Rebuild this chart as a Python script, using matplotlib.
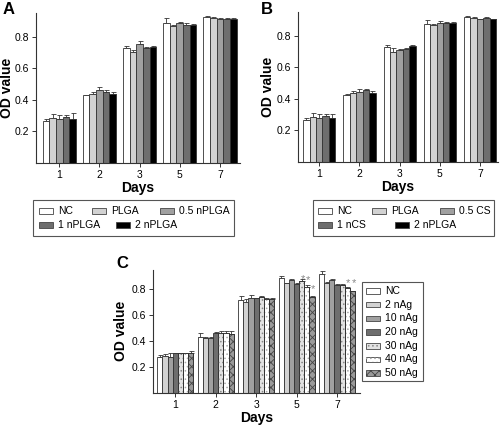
import matplotlib
matplotlib.use("Agg")
import matplotlib.pyplot as plt
import numpy as np
from matplotlib.patches import Rectangle

plt.rcParams['font.family'] = ['Liberation Sans', 'DejaVu Sans']
plt.rcParams['hatch.linewidth'] = 0.6

days = ["1", "2", "3", "5", "7"]

# Panel A
a_labels = ["NC", "PLGA", "0.5 nPLGA", "1 nPLGA", "2 nPLGA"]
a_vals = [
    [0.265, 0.43, 0.73, 0.885, 0.925],
    [0.285, 0.44, 0.705, 0.870, 0.920],
    [0.278, 0.465, 0.755, 0.885, 0.915],
    [0.290, 0.450, 0.730, 0.878, 0.915],
    [0.280, 0.440, 0.735, 0.875, 0.915],
]
a_err = [
    [0.012, 0.003, 0.015, 0.035, 0.005],
    [0.025, 0.008, 0.012, 0.005, 0.003],
    [0.025, 0.020, 0.018, 0.008, 0.002],
    [0.015, 0.010, 0.005, 0.010, 0.002],
    [0.035, 0.010, 0.007, 0.007, 0.002],
]

# Panel B
b_labels = ["NC", "PLGA", "0.5 CS", "1 nCS", "2 nPLGA"]
b_vals = [
    [0.267, 0.424, 0.729, 0.874, 0.921],
    [0.284, 0.439, 0.700, 0.870, 0.915],
    [0.280, 0.445, 0.708, 0.884, 0.905],
    [0.290, 0.453, 0.718, 0.878, 0.913],
    [0.277, 0.439, 0.735, 0.878, 0.905],
]
b_err = [
    [0.012, 0.005, 0.015, 0.025, 0.005],
    [0.028, 0.008, 0.020, 0.003, 0.003],
    [0.025, 0.020, 0.010, 0.010, 0.003],
    [0.015, 0.010, 0.005, 0.012, 0.003],
    [0.030, 0.010, 0.008, 0.008, 0.003],
]

# Panel C
c_labels = ["NC", "2 nAg", "10 nAg", "20 nAg", "30 nAg", "40 nAg", "50 nAg"]
c_vals = [
    [0.280, 0.435, 0.720, 0.885, 0.920],
    [0.285, 0.425, 0.705, 0.845, 0.845],
    [0.280, 0.425, 0.730, 0.870, 0.870],
    [0.305, 0.465, 0.730, 0.840, 0.835],
    [0.305, 0.465, 0.740, 0.860, 0.835],
    [0.305, 0.460, 0.725, 0.815, 0.810],
    [0.310, 0.455, 0.725, 0.740, 0.785],
]
c_err = [
    [0.010, 0.025, 0.030, 0.015, 0.020],
    [0.015, 0.010, 0.020, 0.005, 0.010],
    [0.025, 0.010, 0.025, 0.005, 0.005],
    [0.005, 0.005, 0.005, 0.010, 0.005],
    [0.005, 0.010, 0.005, 0.015, 0.005],
    [0.005, 0.015, 0.005, 0.015, 0.005],
    [0.010, 0.020, 0.005, 0.010, 0.005],
]
# asterisks: (series index, day index, y)
c_stars = [(4, 3, 0.880), (5, 3, 0.870), (6, 3, 0.800), (5, 4, 0.850), (6, 4, 0.845)]

ab_colors = ["white", "#d2d2d2", "#a0a0a0", "#6e6e6e", "black"]
c_face = ["white", "#d2d2d2", "#a0a0a0", "#6e6e6e", "#e2e2e2", "white", "#9a9a9a"]
c_hatch = [None, None, None, None, "....", "....", "xxxx"]
c_hcol = [None, None, None, None, "#888888", "#aaaaaa", "#444444"]

W, H = 500, 425
fig = plt.figure(figsize=(5, 4.25), dpi=100)


def style_axes(ax, xlim, ylab_x):
    ax.set_ylim(0, 0.95)
    ax.set_xlim(*xlim)
    ax.set_yticks([0.2, 0.4, 0.6, 0.8])
    ax.set_yticklabels(["0.2", "0.4", "0.6", "0.8"])
    ax.set_xticks(np.arange(len(days)))
    ax.set_xticklabels(days)
    for s in ["top", "right"]:
        ax.spines[s].set_visible(False)
    for s in ["left", "bottom"]:
        ax.spines[s].set_color("#333333")
        ax.spines[s].set_linewidth(0.8)
    ax.tick_params(axis="both", labelsize=7.5, length=3, width=0.7, color="#333333", pad=2)
    ax.set_xlabel("Days", fontsize=10, fontweight="bold", labelpad=1)
    ax.set_ylabel("OD value", fontsize=10, fontweight="bold")
    ax.yaxis.set_label_coords(ylab_x, 0.5)


def draw_bars(ax, vals, errs, faces, gw, hatches=None, hcols=None):
    n = len(vals)
    w = gw / n
    x = np.arange(len(days))
    for i in range(n):
        xi = x - gw / 2 + w * (i + 0.5)
        ax.bar(xi, vals[i], width=w, color=faces[i], edgecolor="#333333", linewidth=0.6, zorder=2)
        if hatches is not None and hatches[i]:
            ax.bar(xi, vals[i], width=w, facecolor="none", edgecolor=hcols[i],
                   hatch=hatches[i], linewidth=0, zorder=3)
            ax.bar(xi, vals[i], width=w, facecolor="none", edgecolor="#333333",
                   linewidth=0.6, zorder=4)
        ax.errorbar(xi, vals[i], yerr=[np.zeros(len(days)), errs[i]], fmt="none",
                    ecolor="#333333", elinewidth=0.6, capsize=1.8, capthick=0.6, zorder=1)
    return w


axA = fig.add_axes([0.072, 0.6165, 0.408, 0.3525])
draw_bars(axA, a_vals, a_err, ab_colors, 0.83)
style_axes(axA, (-0.58, 4.5), -0.11)
fig.text(0.006, 0.978, "A", fontsize=12, fontweight="bold", va="center")

axB = fig.add_axes([0.596, 0.619, 0.40, 0.3525])
draw_bars(axB, b_vals, b_err, ab_colors, 0.8)
style_axes(axB, (-0.53, 4.45), -0.115)
fig.text(0.522, 0.978, "B", fontsize=12, fontweight="bold", va="center")

axC = fig.add_axes([0.306, 0.0753, 0.414, 0.29])
w = draw_bars(axC, c_vals, c_err, c_face, 0.89, c_hatch, c_hcol)
style_axes(axC, (-0.55, 4.57), -0.12)
for si, di, yv in c_stars:
    xi = di - 0.89 / 2 + w * (si + 0.5)
    axC.text(xi + 0.03, yv, "*", fontsize=8, color="#888888", ha="center", va="center", zorder=5)
fig.text(0.232, 0.379, "C", fontsize=12, fontweight="bold", va="center")


# ---- manual legends (pixel layout) ----
def frame(x0, y0, x1, y1):
    fig.add_artist(Rectangle((x0 / W, 1 - y1 / H), (x1 - x0) / W, (y1 - y0) / H,
                             transform=fig.transFigure, facecolor="white",
                             edgecolor="#555555", linewidth=0.8))


def entry(x, y, label, face, hatch=None, hcol=None):
    hw, hh = 14, 5.5
    fig.add_artist(Rectangle((x / W, 1 - (y + hh / 2) / H), hw / W, hh / H,
                             transform=fig.transFigure, facecolor=face,
                             edgecolor="#444444", linewidth=0.6))
    if hatch:
        fig.add_artist(Rectangle((x / W, 1 - (y + hh / 2) / H), hw / W, hh / H,
                                 transform=fig.transFigure, facecolor="none",
                                 edgecolor=hcol, hatch=hatch, linewidth=0))
    fig.text((x + hw + 5) / W, 1 - y / H, label, fontsize=7.5, va="center", ha="left")


frame(33, 200, 234, 236)
posA = [(39, 211), (92, 211), (160, 211), (39, 225), (116, 225)]
for (x, y), lab, col in zip(posA, a_labels, ab_colors):
    entry(x, y, lab, col)

frame(313, 200, 494, 236)
posB = [(318, 211), (372, 211), (440, 211), (318, 225), (395, 225)]
for (x, y), lab, col in zip(posB, b_labels, ab_colors):
    entry(x, y, lab, col)

frame(362, 282, 423, 381)
for i, lab in enumerate(c_labels):
    entry(366, 291 + 13.7 * i, lab, c_face[i], c_hatch[i], c_hcol[i])

fig.savefig("out.png", dpi=100)
